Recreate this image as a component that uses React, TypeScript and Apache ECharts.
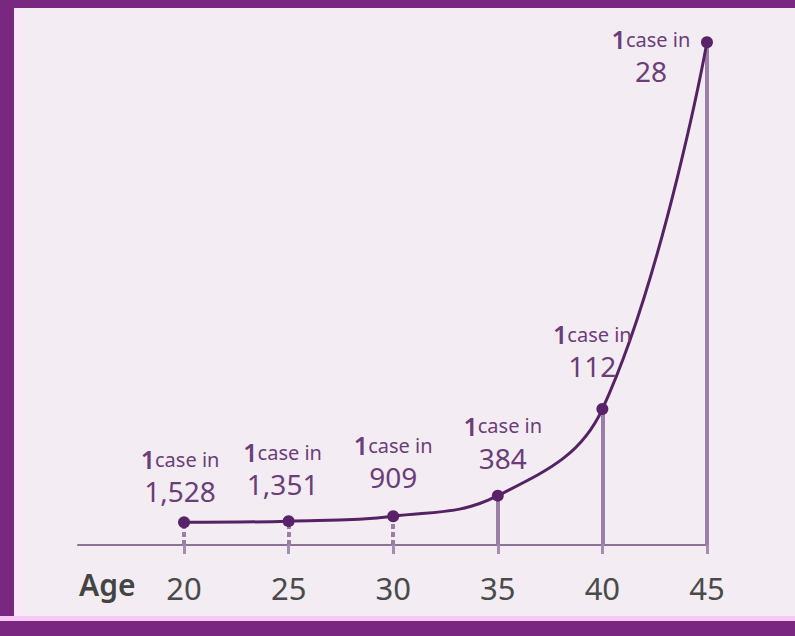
import React, { useEffect, useRef } from "react";
import * as echarts from "echarts";

const ages = [20, 25, 30, 35, 40, 45];
const oneCaseIn = [1528, 1351, 909, 384, 112, 28];
const oneCaseInLabels = ["1,528", "1,351", "909", "384", "112", "28"];
const tickLabels = [20, 25, 30, 35, 40, 45];
const axisTitle = "Age";

export default function App() {
  const ref = useRef<HTMLDivElement>(null);
  useEffect(() => {
    if (!ref.current) return;
    const chart = echarts.init(ref.current, null, { renderer: "svg" });
    const ratePerThousand = oneCaseIn.map((n) => 1000 / n);
    const yMin = -1;
    const labelDist = [7, 13, 15, 14, 19, 0];
    const labelOff: number[][] = [[-4, 0], [-6, 0], [0, 0], [5, 0], [-10, 0], [-56, 53]];
    const dashed = [true, true, true, false, false, false];
    const font = "'Noto Sans', 'Open Sans', sans-serif";
    const purple = "#6b3d79";

    const option: any = {
      animation: false,
      backgroundColor: "#f3edf3",
      grid: { left: 78, right: 87, top: 11, bottom: 91 },
      xAxis: {
        type: "value",
        min: 14.93,
        max: 45.05,
        splitLine: { show: false },
        axisLine: { onZero: false, lineStyle: { color: "#8c7396", width: 2 } },
        axisTick: {
          show: true,
          customValues: tickLabels,
          length: 9,
          lineStyle: { color: "#a58cb0", width: 3 },
        },
        axisLabel: {
          customValues: tickLabels,
          margin: 27,
          fontSize: 31,
          fontFamily: font,
          color: "#4a4a4a",
        },
      },
      yAxis: {
        type: "value",
        min: yMin,
        max: 38,
        show: false,
        splitLine: { show: false },
      },
      graphic: [
        { type: "rect", shape: { x: 0, y: 0, width: 795, height: 8 }, style: { fill: "#7a2782" }, z: 100 },
        { type: "rect", shape: { x: 0, y: 0, width: 14, height: 636 }, style: { fill: "#7a2782" }, z: 100 },
        { type: "rect", shape: { x: 0, y: 616, width: 795, height: 5 }, style: { fill: "#f5c9f3" }, z: 100 },
        { type: "rect", shape: { x: 0, y: 621, width: 795, height: 15 }, style: { fill: "#7a2782" }, z: 100 },
        { type: "rect", shape: { x: 14, y: 8, width: 8, height: 608 }, style: { fill: "#f9e8f8" }, z: 99 },
        {
          type: "text",
          left: 79,
          top: 569,
          style: {
            text: axisTitle,
            fontSize: 30,
            fontWeight: 600,
            fontFamily: font,
            fill: "#444444",
          },
        },
      ],
      series: [
        {
          type: "line",
          data: ages.map((a, i) => ({
            value: [a, ratePerThousand[i]],
            label: {
              show: true,
              position: "top",
              distance: labelDist[i],
              offset: labelOff[i],
              formatter: `{a|1}{b|case in}\n{c|${oneCaseInLabels[i]}}`,
            },
          })),
          smooth: 0.4,
          symbol: "circle",
          symbolSize: 12,
          lineStyle: { color: "#552264", width: 3 },
          itemStyle: { color: "#5a2268" },
          label: {
            rich: {
              a: { fontSize: 25, fontWeight: 600, fontFamily: font, color: purple, lineHeight: 28 },
              b: { fontSize: 20, fontFamily: font, color: purple, lineHeight: 28 },
              c: { fontSize: 28, fontFamily: font, color: purple, lineHeight: 36 },
            },
          },
          markLine: {
            silent: true,
            symbol: "none",
            label: { show: false },
            z: 1,
            data: ages.map((a, i) => [
              {
                coord: [a, yMin],
                lineStyle: {
                  color: "#9a7ea6",
                  width: 4,
                  type: dashed[i] ? [5, 3] : "solid",
                },
              },
              { coord: [a, ratePerThousand[i]] },
            ]),
          },
          z: 3,
        },
      ],
    };
    chart.setOption(option);
    return () => chart.dispose();
  }, []);
  return (
    <div
      ref={ref}
      style={{ position: "fixed", left: 0, top: 0, width: 795, height: 636 }}
    />
  );
}
